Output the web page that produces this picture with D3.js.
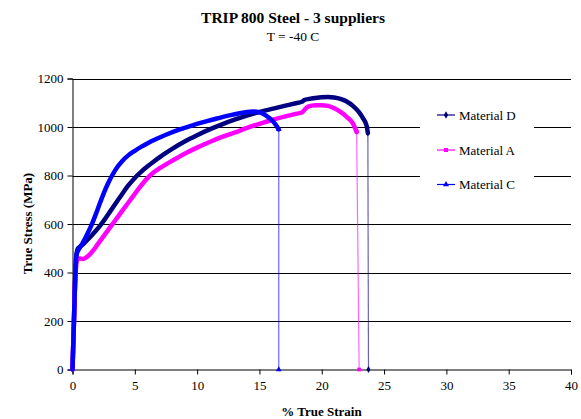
<!DOCTYPE html>
<html>
<head>
<meta charset="utf-8">
<script src="https://cdn.jsdelivr.net/npm/d3@7"></script>
<style>
  body { margin: 0; background: #fff; }
  svg { display: block; }
</style>
</head>
<body>
<svg id="chart" width="581" height="419"></svg>
<script>
// Axis ticks
const xTicks = [0, 5, 10, 15, 20, 25, 30, 35, 40];
const yTicks = [0, 200, 400, 600, 800, 1000, 1200];

// Series (order of drawing and legend)
const seriesNames = ["Material D", "Material A", "Material C"];
const seriesColors = ["#000080", "#FF00FF", "#0000FF"];
const seriesMarkers = ["diamond", "square", "triangle"];

// Material D: % true strain / true stress (MPa); last point is the fracture drop
const strainD = [0, 0.1, 0.2, 0.28, 0.35, 0.45, 0.6, 0.8, 1.0, 1.4, 1.8, 2.2, 2.6, 3.0, 3.5, 4.0, 4.5,
  5.0, 5.5, 6.0, 6.5, 7.0, 8.0, 9.0, 10.0, 11.0, 12.0, 13.0, 14.0, 15.0, 16.0, 17.0, 18.0, 18.4,
  18.6, 19.0, 19.5, 20.0, 20.5, 21.0, 21.5, 22.0, 22.5, 23.0, 23.3, 23.6, 23.7, 23.75];
const stressD = [0, 170, 350, 450, 485, 500, 506, 514, 524, 545, 568, 592, 620, 650, 688, 725, 760,
  790, 815, 837, 857, 876, 910, 940, 966, 990, 1011, 1030, 1047, 1062, 1075, 1087, 1099, 1104,
  1111, 1116, 1120, 1123, 1124, 1122, 1116, 1105, 1087, 1060, 1037, 1005, 975, 0];

// Material A
const strainA = [0, 0.1, 0.2, 0.28, 0.35, 0.45, 0.6, 0.8, 1.0, 1.3, 1.6, 2.0, 2.5, 3.0, 3.5, 4.0,
  4.65, 5.3, 6.0, 6.5, 7.0, 7.5, 8.0, 9.0, 10.0, 11.0, 12.0, 13.0, 14.0, 15.0, 16.0, 17.0, 18.0,
  18.4, 18.6, 18.9, 19.5, 20.0, 20.5, 21.0, 21.5, 22.0, 22.5, 22.8, 23.0];
const stressA = [0, 170, 350, 420, 448, 456, 458, 456, 459, 470, 487, 515, 550, 585, 620, 655,
  700, 745, 788, 812, 830, 846, 861, 890, 915, 938, 959, 977, 996, 1013, 1029, 1043, 1055,
  1060, 1070, 1084, 1090, 1090, 1087, 1077, 1062, 1042, 1015, 980, 0];

// Material C
const strainC = [0, 0.1, 0.2, 0.27, 0.35, 0.5, 0.8, 1.2, 1.6, 2.0, 2.4, 2.8, 3.2, 3.6, 4.0, 4.5, 5.0,
  5.5, 6.0, 6.5, 7.5, 8.5, 9.5, 10.5, 11.5, 12.5, 13.4, 14.0, 14.5, 15.0, 15.5, 16.0, 16.3, 16.55,
  16.55];
const stressC = [0, 170, 350, 440, 478, 495, 520, 560, 605, 658, 713, 762, 802, 835, 860, 884, 902,
  918, 932, 945, 968, 988, 1005, 1020, 1034, 1047, 1057, 1062, 1064, 1060, 1048, 1028, 1010, 990,
  0];

const strains = [strainD, strainA, strainC];
const stresses = [stressD, stressA, stressC];

const svg = d3.select("#chart");
const font = "'Liberation Serif', 'Times New Roman', serif";

const plot = { left: 72.5, right: 571, top: 78.5, bottom: 369.5 };
const x = d3.scaleLinear().domain([0, 40]).range([plot.left, plot.right]);
const y = d3.scaleLinear().domain([0, 1200]).range([plot.bottom, plot.top]);

// Title
svg.append("text").attr("x", 293).attr("y", 22.5).attr("text-anchor", "middle")
  .attr("font-family", font).attr("font-size", 15.5).attr("font-weight", "bold")
  .text("TRIP 800 Steel - 3 suppliers");
svg.append("text").attr("x", 293).attr("y", 40.5).attr("text-anchor", "middle")
  .attr("font-family", font).attr("font-size", 13.5)
  .text("T = -40 C");

// Horizontal gridlines
svg.append("g").selectAll("line").data(yTicks.filter(d => d > 0)).join("line")
  .attr("x1", plot.left).attr("x2", plot.right)
  .attr("y1", d => Math.round(y(d)) + 0.5).attr("y2", d => Math.round(y(d)) + 0.5)
  .attr("stroke", "#000").attr("stroke-width", 1);

// Axes
const yAxis = d3.axisLeft(y).tickValues(yTicks).tickSize(5).tickPadding(4).tickFormat(d3.format("d"));
const xAxis = d3.axisBottom(x).tickValues(xTicks).tickSize(5).tickPadding(6).tickFormat(d3.format("d"));

const gy = svg.append("g").attr("transform", `translate(${plot.left},0)`).call(yAxis);
const gx = svg.append("g").attr("transform", `translate(0,${plot.bottom})`).call(xAxis);
[gx, gy].forEach(g => {
  g.select(".domain").attr("stroke", "#000");
  g.selectAll(".tick line").attr("stroke", "#000");
  g.selectAll(".tick text").attr("font-family", font).attr("font-size", 13).attr("fill", "#000");
});

// Axis titles
svg.append("text").attr("x", 321.5).attr("y", 416).attr("text-anchor", "middle")
  .attr("font-family", font).attr("font-size", 13).attr("font-weight", "bold")
  .text("% True Strain");
svg.append("text").attr("transform", "translate(32,223.5) rotate(-90)").attr("text-anchor", "middle")
  .attr("font-family", font).attr("font-size", 13).attr("font-weight", "bold")
  .text("True Stress (MPa)");

// Marker shapes
const symbolOf = { diamond: d3.symbolDiamond, square: d3.symbolSquare, triangle: d3.symbolTriangle };

const curveLine = d3.line().x(d => x(d[0])).y(d => y(d[1])).curve(d3.curveMonotoneX);
const dropLine = d3.line().x(d => x(d[0])).y(d => y(d[1]));

seriesNames.forEach((name, i) => {
  const pts = strains[i].map((s, j) => [s, stresses[i][j]]);
  const curve = pts.slice(0, -1);
  const drop = pts.slice(-2);
  const g = svg.append("g");
  // fracture drop
  g.append("path").attr("d", dropLine(drop)).attr("fill", "none")
    .attr("stroke", seriesColors[i]).attr("stroke-opacity", 0.6).attr("stroke-width", 1.2);
  // dense measured curve
  g.append("path").attr("d", curveLine(curve)).attr("fill", "none")
    .attr("stroke", seriesColors[i]).attr("stroke-width", 4.5)
    .attr("stroke-linejoin", "round").attr("stroke-linecap", "round");
  // end markers
  const last = pts[pts.length - 1];
  const prev = pts[pts.length - 2];
  [prev, last].forEach(p => {
    g.append("path").attr("d", d3.symbol().type(symbolOf[seriesMarkers[i]]).size(14)())
      .attr("transform", `translate(${x(p[0])},${y(p[1])})`)
      .attr("fill", seriesColors[i]);
  });
});

// Legend
const legend = svg.append("g");
legend.append("rect").attr("x", 420).attr("y", 98).attr("width", 114).attr("height", 102).attr("fill", "#fff");
const legendY = [115, 150, 184.5];
seriesNames.forEach((name, i) => {
  const row = legend.append("g").attr("transform", `translate(0,${legendY[i]})`);
  row.append("line").attr("x1", 437).attr("x2", 455).attr("y1", 0).attr("y2", 0)
    .attr("stroke", seriesColors[i]).attr("stroke-width", 1.2);
  row.append("path").attr("d", d3.symbol().type(symbolOf[seriesMarkers[i]]).size(16)())
    .attr("transform", "translate(446,0)").attr("fill", seriesColors[i]);
  row.append("text").attr("x", 459).attr("y", 4.5)
    .attr("font-family", font).attr("font-size", 13).attr("fill", "#000").text(name);
});
</script>
</body>
</html>
